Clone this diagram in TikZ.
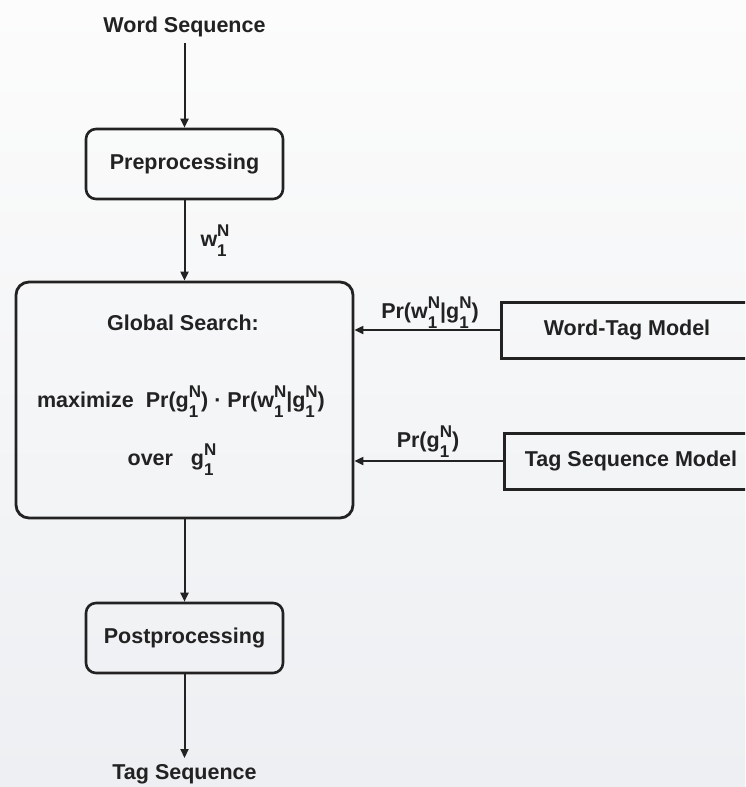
\documentclass[tikz,border=0pt]{standalone}
\usepackage{fontspec}
\setmainfont{Liberation Sans}
\usetikzlibrary{arrows.meta}

\definecolor{ink}{HTML}{222222}
\definecolor{bgtop}{HTML}{FCFCFC}
\definecolor{bgbot}{HTML}{EDEFF2}

% stacked superscript / subscript pair, e.g. g^N_1
\newcommand\supsub[2]{{\fontsize{17}{17}\selectfont
  \setbox0=\hbox{\raisebox{10pt}{#1}}\setbox2=\hbox{\raisebox{-10pt}{#2}}%
  \ifdim\wd0>\wd2 \rlap{\box2}\box0 \else\rlap{\box0}\box2 \fi}}

\begin{document}
\begin{tikzpicture}[x=1pt,y=-1pt,
  font=\fontsize{21.5}{24}\selectfont\bfseries,
  every node/.style={text=ink},
  label/.style={inner sep=0pt},
  roundbox/.style={draw=ink, line width=2.6pt, rounded corners=10pt,
    minimum width=197pt, minimum height=70pt, inner sep=0pt},
  searchbox/.style={draw=ink, line width=2.8pt, rounded corners=13pt,
    minimum width=337pt, minimum height=236pt, inner sep=0pt},
  modelbox/.style={draw=ink, line width=3pt,
    minimum height=56pt, inner sep=0pt},
  arr/.style={draw=ink, line width=2pt, -{Triangle[length=9pt,width=8pt]}}]

\useasboundingbox (0,0) rectangle (745,787);
\shade[top color=bgtop, bottom color=bgbot] (0,0) rectangle (745,787);
\clip (0,0) rectangle (745,787);

% main pipeline
\node[label, inner sep=6pt] (ws) at (184.5,27) {Word Sequence};
\node[roundbox] (pre) at (184.5,164) {Preprocessing};
\node[searchbox] (gs) at (184.5,400) {};
\node[roundbox] (post) at (184.5,638) {Postprocessing};
\node[label, inner sep=6pt] (ts) at (184.5,774) {Tag Sequence};

% contents of the search box
\node[label] (gstitle) at (183,323) {Global Search:};
\node[label] (gsmax) at (181,402)
  {maximize\ \ Pr(g\supsub{N}{1})\ ·\ Pr(w\supsub{N}{1}|g\supsub{N}{1})};
\node[label] (gsover) at (172,460) {over\ \ \ g\supsub{N}{1}};

% knowledge sources
\node[modelbox, minimum width=252pt] (wt) at (627,330) {Word-Tag Model};
\node[modelbox, minimum width=254pt] (tsm) at (631,461) {Tag Sequence Model};

% connectors
\draw[arr] (ws.south) -- (pre.north);
\draw[arr] (pre.south) -- (gs.north);
\draw[arr] (gs.south) -- (post.north);
\draw[arr] (post.south) -- (ts.north);
\draw[arr] (wt.west) -- (gs.east |- wt.west);
\draw[arr] (tsm.west) -- (gs.east |- tsm.west);

% connector labels
\node[label] (lw) at (215,241) {w\supsub{N}{1}};
\node[label] (lwt) at (430,313) {Pr(w\supsub{N}{1}|g\supsub{N}{1})};
\node[label] (ltsm) at (428,442) {Pr(g\supsub{N}{1})};
\end{tikzpicture}
\end{document}
